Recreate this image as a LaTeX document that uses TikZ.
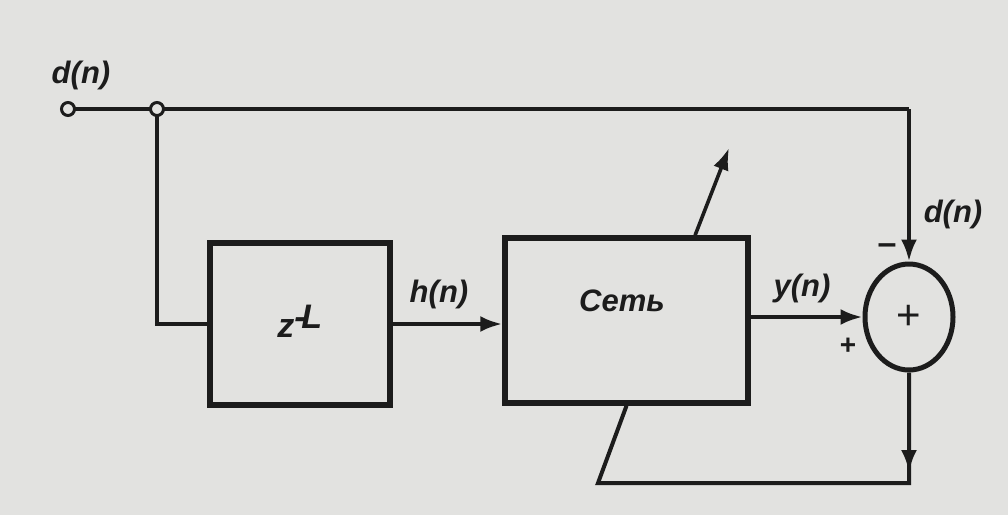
\documentclass[tikz,border=0pt]{standalone}
\usepackage{fontspec}
\setmainfont{Liberation Sans}
\usetikzlibrary{arrows.meta,shapes.geometric,calc}
\definecolor{paper}{RGB}{226,226,224}
\definecolor{ink}{RGB}{28,28,28}
\begin{document}
\begin{tikzpicture}[x=1pt,y=-1pt,
  ink/.style={draw=ink,line width=4pt},
  blockbox/.style={draw=ink,line width=5.5pt,rectangle,inner sep=0pt},
  terminal/.style={draw=ink,line width=3pt,circle,minimum size=13pt,inner sep=0pt,fill=paper},
  sumnode/.style={draw=ink,line width=5pt,ellipse,minimum width=88pt,minimum height=106pt,inner sep=0pt},
  tip/.style={-{Latex[length=22pt,width=16pt]}},
  lbl/.style={font=\fontsize{31}{34}\selectfont\bfseries\itshape,text=ink},
  sign/.style={font=\fontsize{34}{36}\selectfont\bfseries,text=ink}]
  % paper
  \fill[paper] (0,0) rectangle (1008,515);
  \useasboundingbox (0,0) rectangle (1008,515);

  % blocks
  \node[blockbox,minimum width=180pt,minimum height=162pt] (delay) at (300,324) {};
  \node[blockbox,minimum width=243pt,minimum height=165pt] (net) at (626.5,320.5) {};
  \node[sumnode] (sum) at (909,317) {};

  \node[font=\fontsize{34}{36}\selectfont\bfseries\itshape,text=ink] at (300,321) {z$^{\textbf{-}\!\textit{\textbf{L}}}$};
  \node[font=\fontsize{31}{34}\selectfont\bfseries\itshape,text=ink] at (622,301) {Сеть};
  \node[font=\fontsize{42}{44}\selectfont,text=ink] at (909,317) {+};

  % free ends of connectors
  \coordinate (topright) at (909,109);
  \coordinate (adapt) at (729,148);
  \coordinate (fb1) at (909,483);
  \coordinate (fb2) at (598,483);
  \coordinate (fbarrow) at (909,472);

  % signal lines
  \draw[ink] (68,109) -- (topright);
  \draw[ink,tip] (topright) -- (sum.north);
  \draw[ink] (157,109) |- (delay.west);
  \draw[ink,tip] (delay.east) -- (delay.east -| net.west);
  \draw[ink,tip] (sum.west -| net.east) -- (sum.west);
  \draw[ink,line width=3.6pt,tip] ($(net.north west)!0.776!(net.north east)$) -- (adapt);
  \draw[ink] (sum.south) -- (fb1) -- (fb2) -- (net.south);
  \draw[ink,tip] (sum.south) -- (fbarrow);

  \node[terminal] (in) at (68,109) {};
  \node[terminal] (jn) at (157,109) {};

  % labels
  \node[lbl] at (81,75) {d(n)};
  \node[lbl] at (439,294) {h(n)};
  \node[lbl] at (802,288) {y(n)};
  \node[lbl] at (953,214) {d(n)};
  \node[sign] at (887,249) {–};
  \node[font=\fontsize{28}{30}\selectfont\bfseries,text=ink] at (848,346) {+};
\end{tikzpicture}
\end{document}
